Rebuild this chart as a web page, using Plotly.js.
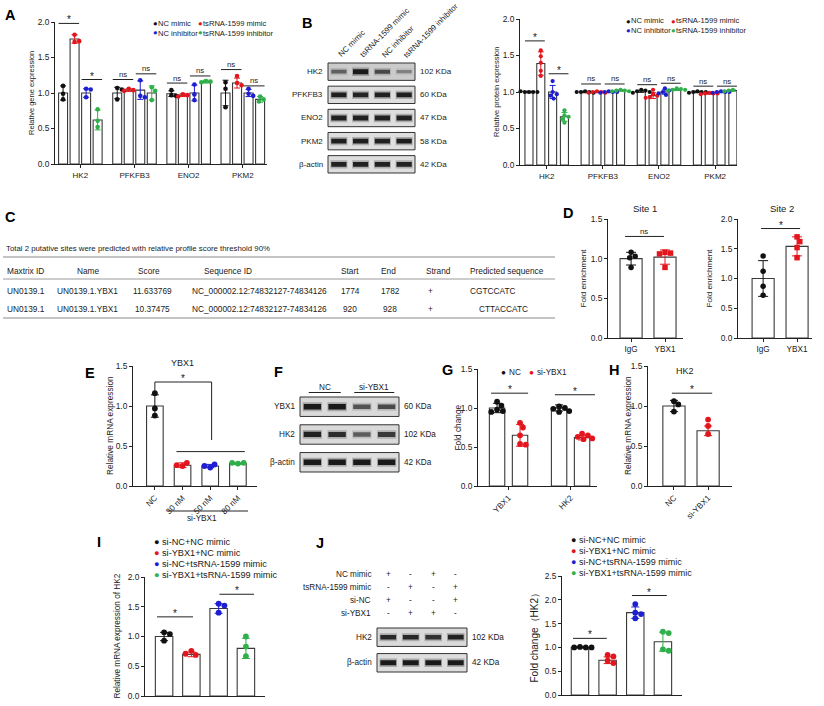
<!DOCTYPE html>
<html><head><meta charset="utf-8">
<script src="https://cdn.plot.ly/plotly-3.0.1.min.js"></script>
<style>body{margin:0;background:#fff}#chart{width:824px;height:706px}</style>
</head><body><div id="chart"></div>
<script>
// ================= DATA =================
// Panel A – relative gene expression
const aGenes = ['HK2','PFKFB3','ENO2','PKM2'];
const aNames = ['NC mimic','tsRNA-1599 mimic','NC inhibitor','tsRNA-1599 inhibitor'];
const aMeanNCm = [1.00,1.00,0.99,1.00], aSdNCm = [0.10,0.08,0.04,0.18];
const aPtsNCm = [[1.10,0.99,0.91],[1.07,1.05,0.91],[1.04,0.97,0.96],[1.15,1.06,0.80]];
const aMeanTsm = [1.76,1.04,0.97,1.14], aSdTsm = [0.06,0.02,0.02,0.07];
const aPtsTsm = [[1.82,1.72,1.73],[1.06,1.04,1.03],[0.98,0.97,0.95],[1.24,1.14,1.11]];
const aMeanNCi = [1.00,1.04,1.00,1.00], aSdNCi = [0.06,0.13,0.11,0.05];
const aPtsNCi = [[1.06,1.05,0.94],[1.18,0.96,0.94],[1.12,0.98,0.90],[1.06,0.99,0.96]];
const aMeanTsi = [0.62,1.00,1.16,0.91], aSdTsi = [0.14,0.10,0.02,0.04];
const aPtsTsi = [[0.77,0.61,0.52],[1.08,1.03,0.90],[1.17,1.16,1.15],[0.95,0.91,0.88]];
const aSigMim = [1.98,1.19,1.14,1.33], aSigMimTxt = ['*','ns','ns','ns'];
const aSigInh = [1.19,1.27,1.24,1.10], aSigInhTxt = ['*','ns','ns','ns'];

// Panel B – western blot + relative protein expression
const bBlotRows = ['HK2','PFKFB3','ENO2','PKM2','β-actin'];
const bBlotKDa = ['102 KDa','60 KDa','47 KDa','58 KDa','42 KDa'];
const bBandHK2 = [0.45,0.95,0.60,0.25], bBandPFKFB3 = [0.92,0.88,0.90,0.92];
const bBandENO2 = [0.90,0.90,0.90,0.90], bBandPKM2 = [0.92,0.92,0.90,0.94], bBandActin = [0.90,0.90,0.90,0.90];
const bMeanNCm = [1.00,1.00,1.01,1.00], bSdNCm = [0.01,0.01,0.015,0.01];
const bPtsNCm = [[1.00,1.00,1.00,1.00,1.01],[1.01,1.00,1.00,0.99,1.00],[1.03,1.02,1.01,1.00,0.99],[1.01,1.00,1.00,1.00,0.99]];
const bMeanTsm = [1.39,1.00,0.95,0.98], bSdTsm = [0.16,0.01,0.04,0.01];
const bPtsTsm = [[1.57,1.49,1.40,1.29,1.22],[1.01,1.00,1.00,0.99,0.99],[1.03,0.97,0.95,0.93,0.92],[0.99,0.98,0.98,0.98,0.97]];
const bMeanNCi = [1.00,1.00,1.00,1.00], bSdNCi = [0.09,0.01,0.03,0.01];
const bPtsNCi = [[1.15,1.00,0.97,0.95,0.91],[1.01,1.00,1.00,1.00,0.99],[1.05,1.02,1.00,0.98,0.96],[1.01,1.00,1.00,1.00,0.99]];
const bMeanTsi = [0.66,1.02,1.03,1.02], bSdTsi = [0.06,0.01,0.01,0.01];
const bPtsTsi = [[0.75,0.68,0.66,0.63,0.58],[1.03,1.02,1.02,1.01,1.01],[1.05,1.04,1.03,1.03,1.02],[1.03,1.02,1.02,1.01,1.01]];
const bSigMim = [1.70,1.11,1.10,1.08], bSigMimTxt = ['*','ns','ns','ns'];
const bSigInh = [1.25,1.11,1.12,1.08], bSigInhTxt = ['*','ns','ns','ns'];

// Panel C – table
const cCaption = 'Total 2 putative sites were predicted with relative profile score threshold 90%';
const cHeader = ['Maxtrix ID','Name','Score','Sequence ID','Start','End','Strand','Predicted sequence'];
const cRow1 = ['UN0139.1','UN0139.1.YBX1','11.633769','NC_000002.12:74832127-74834126','1774','1782','+','CGTCCATC'];
const cRow2 = ['UN0139.1','UN0139.1.YBX1','10.37475','NC_000002.12:74832127-74834126','920','928','+','CTTACCATC'];

// Panel D – fold enrichment
const dGroups = ['IgG','YBX1'];
const d1Mean = [1.00,1.02], d1Sd = [0.08,0.09];
const d1PtsIgG = [1.08,1.03,1.01,0.89], d1PtsYBX1 = [1.08,1.07,1.06,0.89];
const d2Mean = [1.00,1.54], d2Sd = [0.30,0.16];
const d2PtsIgG = [1.38,1.12,0.87,0.72], d2PtsYBX1 = [1.70,1.62,1.52,1.35];

// Panel E – YBX1 mRNA
const eCats = ['NC','30 nM','50 nM','80 nM'];
const eMean = [1.00,0.26,0.25,0.28], eSd = [0.14,0.03,0.02,0.01];
const ePts = [[1.16,0.97,0.88],[0.25,0.29,0.26],[0.23,0.27,0.25],[0.28,0.29,0.29]];

// Panel F – western blot
const fRows = ['YBX1','HK2','β-actin'], fKDa = ['60 KDa','102 KDa','42 KDa'], fGroups = ['NC','si-YBX1'];
const fBandYBX1 = [0.95,0.95,0.55,0.62], fBandHK2 = [0.90,0.82,0.50,0.72], fBandActin = [0.95,0.95,0.95,0.95];

// Panel G – fold change
const gGenes = ['YBX1','HK2'], gNames = ['NC','si-YBX1'];
const gMeanNC = [1.00,1.00], gSdNC = [0.06,0.04];
const gPtsNC = [[1.08,1.03,0.98,0.96,0.95],[1.02,1.00,0.99,0.96,0.95]];
const gMeanSi = [0.65,0.62], gSdSi = [0.14,0.03];
const gPtsSi = [[0.81,0.75,0.65,0.54,0.53],[0.67,0.65,0.63,0.61,0.60]];

// Panel H – HK2 mRNA
const hCats = ['NC','si-YBX1'], hMean = [1.00,0.69], hSd = [0.07,0.06];
const hPts = [[1.06,1.02,0.93],[0.83,0.75,0.65]];

// Panel I – HK2 mRNA rescue
const iNames = ['si-NC+NC mimic','si-YBX1+NC mimic','si-NC+tsRNA-1599 mimic','si-YBX1+tsRNA-1599 mimic'];
const iMean = [1.00,0.70,1.47,0.80], iSd = [0.07,0.04,0.08,0.17];
const iPts = [[1.07,1.04,0.93],[0.76,0.69,0.71],[1.55,1.52,1.40],[1.00,0.83,0.67]];

// Panel J – blot + fold change
const jCondLabels = ['NC mimic','tsRNA-1599 mimic','si-NC','si-YBX1'];
const jNCmimic = ['+','-','+','-'], jTsMimic = ['-','+','-','+'], jSiNC = ['+','-','-','+'], jSiYBX1 = ['-','+','+','-'];
const jRows = ['HK2','β-actin'], jKDa = ['102 KDa','42 KDa'];
const jBandHK2 = [0.85,0.85,0.78,0.90], jBandActin = [0.95,0.95,0.95,0.95];
const jMean = [1.00,0.73,1.73,1.12], jSd = [0.01,0.07,0.12,0.20];
const jPts = [[1.01,1.00,1.00,1.00],[0.84,0.81,0.72,0.67],[1.91,1.73,1.70,1.61],[1.33,1.30,0.96,0.93]];

// ================= STYLE / HELPERS =================
const FONT = '"Liberation Sans", Arial, Helvetica, sans-serif';
const TXT = '#1a1a1a';
const SER = ['#111111','#e3161d','#1e1ed2','#2fb04a'];
const W = 824, H = 706;
const layout = {width:W, height:H, margin:{l:0,r:0,t:0,b:0,pad:0}, paper_bgcolor:'#fff',
  plot_bgcolor:'rgba(0,0,0,0)', showlegend:false, barmode:'overlay',
  font:{family:FONT, size:8, color:TXT}, annotations:[], shapes:[]};
const traces = [];
let axN = 0;
function F(o){ return Object.assign({family:FONT, size:8, color:TXT}, o||{}); }
function ann(x, y, text, o){
  o = Object.assign({}, o||{}); const f = F(o.font); delete o.font;
  layout.annotations.push(Object.assign({xref:'paper', yref:'paper', x:x/W, y:1-y/H, text:text, showarrow:false,
    xanchor:'center', yanchor:'middle', font:f}, o));
}
function addAxes(c){
  axN++; const s = axN===1 ? '' : String(axN);
  const xid = 'x'+s, yid = 'y'+s;
  const common = {showgrid:false, zeroline:false, fixedrange:true, linecolor:'#222', linewidth:1,
    tickcolor:'#222', tickwidth:1, ticklen:3};
  if (c.hidden){
    layout['xaxis'+s] = {domain:[c.x0/W,c.x1/W], range:c.xr, anchor:yid, visible:false, fixedrange:true};
    layout['yaxis'+s] = {domain:[1-c.yb/H,1-c.yt/H], range:c.yr, anchor:xid, visible:false, fixedrange:true};
  } else {
    layout['xaxis'+s] = Object.assign({}, common, {domain:[c.x0/W,c.x1/W], range:c.xr, anchor:yid,
      showline:true, ticks:c.xtv?'outside':'', tickmode:'array', tickvals:c.xtv||[], ticktext:c.xtt||[],
      tickangle:c.xang||0, showticklabels:!!c.xtv, tickfont:F({size:c.xtf||8})});
    layout['yaxis'+s] = Object.assign({}, common, {domain:[1-c.yb/H,1-c.yt/H], range:c.yr, anchor:xid,
      showline:true, ticks:'outside', tickmode:'array', tickvals:c.ytv, ticktext:c.ytv.map(v=>v.toFixed(1)),
      tickfont:F({size:c.ytf||8.4})});
    if (c.ytitle) ann(c.tx, (c.yt+c.yb)/2, c.ytitle, {textangle:-90, font:{size:c.ttf||8}});
  }
  const sx = (c.x1-c.x0)/(c.xr[1]-c.xr[0]), sy = (c.yb-c.yt)/(c.yr[1]-c.yr[0]);
  return {xid, yid, sx, sy, c};
}
function swarm(vals, ax, d){
  const placed = [], offs = [];
  const cand = [0]; for (let k=1;k<=14;k++){ cand.push(k*0.25*d, -k*0.25*d); }
  vals.forEach(v=>{
    const yp = v*ax.sy; let off = 0;
    for (const cx of cand){
      if (placed.every(p=>Math.hypot(p[0]-cx, p[1]-yp) >= d*0.92)){ off = cx; break; }
    }
    placed.push([off,yp]); offs.push(off/ax.sx);
  });
  return offs;
}
function addBars(ax, xs, means, sds, color, w, cap){
  traces.push({type:'bar', x:xs, y:means, width:w, xaxis:ax.xid, yaxis:ax.yid, hoverinfo:'skip',
    marker:{color:'#ffffff', line:{color:'#3a3a3a', width:1.1}},
    error_y:{type:'data', array:sds, visible:true, color:color, thickness:1, width:cap||3.5}});
}
function addPoints(ax, xs, ptsArr, color, size, symbol){
  const X=[], Y=[];
  ptsArr.forEach((pts,i)=>{ const o = swarm(pts, ax, size); pts.forEach((v,j)=>{ X.push(xs[i]+o[j]); Y.push(v); }); });
  traces.push({type:'scatter', mode:'markers', x:X, y:Y, xaxis:ax.xid, yaxis:ax.yid, cliponaxis:false, hoverinfo:'skip',
    marker:{color:color, size:size, symbol:symbol||'circle', line:{width:0}}});
}
function addSig(ax, xa, xb, y, txt){
  layout.shapes.push({type:'line', xref:ax.xid, yref:ax.yid, x0:xa, x1:xb, y0:y, y1:y, line:{color:'#222', width:1}});
  layout.annotations.push({xref:ax.xid, yref:ax.yid, x:(xa+xb)/2, y:y, text:txt, showarrow:false,
    yanchor:'bottom', yshift: txt==='*' ? -4 : -1.5, font:F({size: txt==='*' ? 10 : 7.8})});
}
function lineP(x0,y0,x1,y1,color,w){
  layout.shapes.push({type:'line', xref:'paper', yref:'paper', x0:x0/W, x1:x1/W, y0:1-y0/H, y1:1-y1/H,
    line:{color:color||'#222', width:w||1}});
}
// legend entry: coloured dot and black label as two separate texts
function legendItem(x, y, color, text, size, gap){
  ann(x, y, '●', {xanchor:'left', font:{size:size, color:color}});
  ann(x + size*0.62 + (gap?size*0.3:0), y, text, {xanchor:'left', font:{size:size}});
}
// two stacked entries: dots separately, labels in one two-line text block
function legendCol(x, y, items, size){
  const lh = size*1.3;
  items.forEach((it,k)=>ann(x, y + (k-(items.length-1)/2)*lh, '●', {xanchor:'left', font:{size:size, color:it[0]}}));
  ann(x + size*0.62, y, items.map(it=>it[1]).join('<br>'), {xanchor:'left', align:'left', font:{size:size}});
}
function letter(x, y, t){ ann(x, y, '<b>'+t+'</b>', {font:{size:14.5, color:'#000'}}); }
function addBlot(c){
  const n = c.rows.length, L = (c.bx1-c.bx0)/4, span = n-1+c.f, R = (c.by1-c.by0)/span, pad = 0.08;
  const ax = addAxes({x0:c.bx0-pad*L, x1:c.bx1+pad*L, yt:c.by0-pad*R, yb:c.by1+pad*R,
    xr:[-0.5-pad, 3.5+pad], yr:[n-1+c.f/2+pad, -c.f/2-pad], hidden:true});
  c.rows.forEach((r,i)=>{
    layout.shapes.push({type:'rect', xref:ax.xid, yref:ax.yid, x0:-0.5, x1:3.5, y0:i-c.f/2, y1:i+c.f/2,
      fillcolor:c.fills[i], line:{color:'#333', width:1}, layer:'below'});
    layout.annotations.push({xref:ax.xid, yref:ax.yid, x:-0.5, y:i, text:r, showarrow:false, xanchor:'right', xshift:-3, font:F({size:c.fs})});
    layout.annotations.push({xref:ax.xid, yref:ax.yid, x:3.5, y:i, text:c.kda[i], showarrow:false, xanchor:'left', xshift:3, font:F({size:c.fs})});
    c.bands[i].forEach((v,j)=>{
      const w = c.th*(0.55+0.45*v);
      traces.push({type:'scatter', mode:'lines', x:[j-0.39,j+0.39], y:[i,i], xaxis:ax.xid, yaxis:ax.yid, hoverinfo:'skip',
        line:{color:`rgba(40,40,40,${(0.3*v).toFixed(3)})`, width:w+3.5}});
      traces.push({type:'scatter', mode:'lines', x:[j-0.35,j+0.35], y:[i,i], xaxis:ax.xid, yaxis:ax.yid, hoverinfo:'skip',
        line:{color:`rgba(20,20,20,${(0.15+0.85*v).toFixed(3)})`, width:w}});
    });
  });
  ax.lanePx = j => c.bx0 + (j+0.5)*L;
  return ax;
}

// ================= PANEL A =================
letter(10, 15, 'A');
const gsA = 4.7;
const axA = addAxes({x0:55, x1:267, yt:22, yb:164, xr:[-0.7,17.7], yr:[0,2], ytv:[0,0.5,1,1.5,2],
  xtv:aGenes.map((g,i)=>i*gsA+1.5), xtt:aGenes, ytitle:'Relative gene expression', ttf:7.5, tx:32});
[[aMeanNCm,aSdNCm,aPtsNCm],[aMeanTsm,aSdTsm,aPtsTsm],[aMeanNCi,aSdNCi,aPtsNCi],[aMeanTsi,aSdTsi,aPtsTsi]].forEach((s,k)=>{
  const xs = aGenes.map((g,i)=>i*gsA+k);
  addBars(axA, xs, s[0], s[1], SER[k], 0.78, 3);
  addPoints(axA, xs, s[2], SER[k], 4.6);
});
aGenes.forEach((g,i)=>{
  addSig(axA, i*gsA-0.39, i*gsA+1.39, aSigMim[i], aSigMimTxt[i]);
  addSig(axA, i*gsA+1.61, i*gsA+3.39, aSigInh[i], aSigInhTxt[i]);
});
legendCol(151, 28, [[SER[0],aNames[0]],[SER[2],aNames[2]]], 7.6);
legendCol(196, 28, [[SER[1],aNames[1]],[SER[3],aNames[3]]], 7.6);

// ================= PANEL B =================
letter(307, 23, 'B');
const blotB = addBlot({bx0:328, bx1:415, by0:63, by1:173, f:0.75, rows:bBlotRows, kda:bBlotKDa,
  bands:[bBandHK2,bBandPFKFB3,bBandENO2,bBandPKM2,bBandActin],
  fills:['#cbcbcb','#dedede','#dedede','#dedede','#dedede'], fs:8, th:5});
aNames.forEach((t,j)=>{
  ann(blotB.lanePx(j)-5, 62, t, {xanchor:'left', yanchor:'bottom', textangle:-45, font:{size:7.9}});
});
const gsB = 4.75;
const axB = addAxes({x0:520, x1:737, yt:19, yb:165, xr:[-0.76,17.6], yr:[0,2], ytv:[0,0.5,1,1.5,2],
  xtv:aGenes.map((g,i)=>i*gsB+1.5), xtt:aGenes, ytitle:'Relative protein expression', ttf:7.5, tx:497});
[[bMeanNCm,bSdNCm,bPtsNCm],[bMeanTsm,bSdTsm,bPtsTsm],[bMeanNCi,bSdNCi,bPtsNCi],[bMeanTsi,bSdTsi,bPtsTsi]].forEach((s,k)=>{
  const xs = aGenes.map((g,i)=>i*gsB+k);
  addBars(axB, xs, s[0], s[1], SER[k], 0.68, 3);
  addPoints(axB, xs, s[2], SER[k], 4.2);
});
aGenes.forEach((g,i)=>{
  addSig(axB, i*gsB-0.34, i*gsB+1.34, bSigMim[i], bSigMimTxt[i]);
  addSig(axB, i*gsB+1.66, i*gsB+3.34, bSigInh[i], bSigInhTxt[i]);
});
legendCol(624, 26, [[SER[0],aNames[0]],[SER[2],aNames[2]]], 7.6);
legendCol(669, 26, [[SER[1],aNames[1]],[SER[3],aNames[3]]], 7.6);

// ================= PANEL C =================
letter(10, 217, 'C');
ann(4, 248, cCaption, {xanchor:'left', font:{size:7.8}});
lineP(3, 257, 555, 257, '#8a8a8a', 1.2);
lineP(3, 279, 555, 279, '#9a9a9a', 1);
lineP(3, 318, 555, 318, '#8a8a8a', 1.2);
const cHeadPos = [[5,'left'],[88,'center'],[149,'center'],[202,'left'],[350,'center'],[388,'center'],[438,'center'],[468,'left']];
const cRowPos = [[5,'left'],[87,'center'],[152,'center'],[190,'left'],[350,'center'],[390,'center'],[430,'center'],[468,'left']];
cHeader.forEach((t,i)=>ann(cHeadPos[i][0], 271, t, {xanchor:cHeadPos[i][1], font:{size:8.3}}));
cRow1.forEach((t,i)=>ann(cRowPos[i][0], 291, t, {xanchor:cRowPos[i][1], font:{size:8.3}}));
cRow2.forEach((t,i)=>ann(i===7 ? 477 : cRowPos[i][0], 309, t, {xanchor:cRowPos[i][1], font:{size:8.3}}));

// ================= PANEL D =================
letter(568, 213, 'D');
const axD1 = addAxes({x0:608, x1:683, yt:219, yb:338, xr:[-0.68,1.53], yr:[0,1.5], ytv:[0,0.5,1,1.5],
  xtv:[0,1], xtt:dGroups, xtf:8.2, ytitle:'Fold enrichment', ttf:8.1, tx:583});
addBars(axD1, [0], [d1Mean[0]], [d1Sd[0]], SER[0], 0.65, 5);
addBars(axD1, [1], [d1Mean[1]], [d1Sd[1]], SER[1], 0.65, 5);
addPoints(axD1, [0], [d1PtsIgG], SER[0], 5.5);
addPoints(axD1, [1], [d1PtsYBX1], SER[1], 5.5, 'square');
addSig(axD1, -0.18, 0.97, 1.28, 'ns');
ann(645, 208, 'Site 1', {font:{size:9.5}});
const axD2 = addAxes({x0:738, x1:812, yt:219, yb:338, xr:[-0.74,1.44], yr:[0,2], ytv:[0,0.5,1,1.5,2],
  xtv:[0,1], xtt:dGroups, xtf:8.2, ytitle:'Fold enrichment', ttf:8.1, tx:709});
addBars(axD2, [0], [d2Mean[0]], [d2Sd[0]], SER[0], 0.65, 5);
addBars(axD2, [1], [d2Mean[1]], [d2Sd[1]], SER[1], 0.65, 5);
addPoints(axD2, [0], [d2PtsIgG], SER[0], 5.5);
addPoints(axD2, [1], [d2PtsYBX1], SER[1], 5.5, 'square');
addSig(axD2, -0.06, 1.09, 1.84, '*');
ann(782, 208, 'Site 2', {font:{size:9.5}});

// ================= PANEL E =================
letter(90, 373, 'E');
const axE = addAxes({x0:133, x1:257, yt:366, yb:486, xr:[-0.79,3.69], yr:[0,1.5], ytv:[0,0.5,1,1.5],
  xtv:[0,1,2,3], xtt:eCats, xang:-45, xtf:8.2, ytitle:'Relative mRNA expression', ttf:8.3, tx:110});
eCats.forEach((c,i)=>{
  addBars(axE, [i], [eMean[i]], [eSd[i]], SER[i], 0.6, 4);
  addPoints(axE, [i], [ePts[i]], SER[i], 5.8);
});
layout.shapes.push({type:'path', xref:axE.xid, yref:axE.yid, path:'M 0,1.18 L 0,1.30 L 2.05,1.30 L 2.05,0.575', line:{color:'#222', width:1}});
layout.shapes.push({type:'line', xref:axE.xid, yref:axE.yid, x0:0.78, x1:3.25, y0:0.43, y1:0.43, line:{color:'#222', width:1}});
layout.annotations.push({xref:axE.xid, yref:axE.yid, x:1.0, y:1.30, text:'*', showarrow:false, yanchor:'bottom', yshift:-4, font:F({size:10})});
ann(182, 363, 'YBX1', {font:{size:9}});
lineP(167, 511, 248, 511, '#222', 1);
ann(202, 512, 'si-YBX1', {yanchor:'top', font:{size:8.2}});

// ================= PANEL F =================
letter(278, 372, 'F');
const blotF = addBlot({bx0:300, bx1:399, by0:397, by1:472, f:0.7, rows:fRows, kda:fKDa,
  bands:[fBandYBX1,fBandHK2,fBandActin], fills:['#d9d9d9','#d9d9d9','#dedede'], fs:8.2, th:5.5});
const fMid0 = (blotF.lanePx(0)+blotF.lanePx(1))/2, fMid1 = (blotF.lanePx(2)+blotF.lanePx(3))/2;
ann(fMid0, 387, fGroups[0], {font:{size:8.2}});
ann(fMid1, 387, fGroups[1], {font:{size:8.2}});
lineP(fMid0-16, 392.5, fMid0+16, 392.5, '#222', 1);
lineP(fMid1-20, 392.5, fMid1+20, 392.5, '#222', 1);

// ================= PANEL G =================
letter(447, 370, 'G');
const gPos = [[0,2.7],[1,3.7]];
const axG = addAxes({x0:478, x1:597, yt:369, yb:486, xr:[-0.83,4.35], yr:[0,1.5], ytv:[0,0.5,1,1.5],
  xtv:[0.5,3.2], xtt:gGenes, xang:-45, xtf:8.2, ytitle:'Fold change', ttf:8.3, tx:457});
addBars(axG, gPos[0], gMeanNC, gSdNC, SER[0], 0.67, 4); addPoints(axG, gPos[0], gPtsNC, SER[0], 5.8);
addBars(axG, gPos[1], gMeanSi, gSdSi, SER[1], 0.67, 4); addPoints(axG, gPos[1], gPtsSi, SER[1], 5.8);
addSig(axG, -0.26, 1.35, 1.19, '*');
addSig(axG, 2.52, 4.26, 1.17, '*');
legendItem(499, 372, SER[0], gNames[0], 8.2, true);
legendItem(527, 372, SER[1], gNames[1], 8.2, true);

// ================= PANEL H =================
letter(614, 370, 'H');
const axH = addAxes({x0:648, x1:732, yt:366, yb:486, xr:[-0.76,1.7], yr:[0,1.5], ytv:[0,0.5,1,1.5],
  xtv:[0,1], xtt:hCats, xang:-45, xtf:8.2, ytitle:'Relative mRNA expression', ttf:8.3, tx:628});
hCats.forEach((c,i)=>{ addBars(axH, [i], [hMean[i]], [hSd[i]], SER[i], 0.65, 4); addPoints(axH, [i], [hPts[i]], SER[i], 5.8); });
addSig(axH, -0.06, 1.12, 1.16, '*');
ann(685, 371, 'HK2', {font:{size:9}});

// ================= PANEL I =================
letter(98.5, 542, 'I');
const axI = addAxes({x0:145, x1:265, yt:577, yb:696, xr:[-0.7,3.7], yr:[0,2], ytv:[0,0.5,1,1.5,2],
  ytitle:'Relative mRNA expression of HK2', ttf:8.2, tx:117});
iNames.forEach((c,i)=>{ addBars(axI, [i], [iMean[i]], [iSd[i]], SER[i], 0.64, 4); addPoints(axI, [i], [iPts[i]], SER[i], 5.8); });
addSig(axI, -0.26, 1.06, 1.33, '*');
addSig(axI, 2.03, 3.30, 1.71, '*');
iNames.forEach((t,i)=>legendItem(152, 542+i*11, SER[i], t, 9.2, true));

// ================= PANEL J =================
letter(320, 543, 'J');
const blotJ = addBlot({bx0:377, bx1:467, by0:628, by1:672, f:0.72, rows:jRows, kda:jKDa,
  bands:[jBandHK2,jBandActin], fills:['#dadada','#dedede'], fs:8.2, th:5});
[jNCmimic,jTsMimic,jSiNC,jSiYBX1].forEach((row,r)=>{
  const y = 574 + r*13;
  ann(373, y, jCondLabels[r], {xanchor:'right', font:{size:8.2}});
  row.forEach((s,j)=>ann(blotJ.lanePx(j), y, s, {font:{size:8.2}}));
});
const axJ = addAxes({x0:562, x1:682, yt:576, yb:695, xr:[-0.65,3.69], yr:[0,2.5], ytv:[0,0.5,1,1.5,2,2.5],
  ytitle:'Fold change（HK2）', ttf:10, tx:534});
iNames.forEach((c,i)=>{ addBars(axJ, [i], [jMean[i]], [jSd[i]], SER[i], 0.63, 4); addPoints(axJ, [i], [jPts[i]], SER[i], 5.8); });
addSig(axJ, -0.25, 0.97, 1.19, '*');
addSig(axJ, 1.88, 3.14, 2.09, '*');
iNames.forEach((t,i)=>legendItem(569, 540+i*11, SER[i], t, 9.0, true));

Plotly.newPlot('chart', traces, layout, {staticPlot:true, displayModeBar:false});
</script></body></html>
